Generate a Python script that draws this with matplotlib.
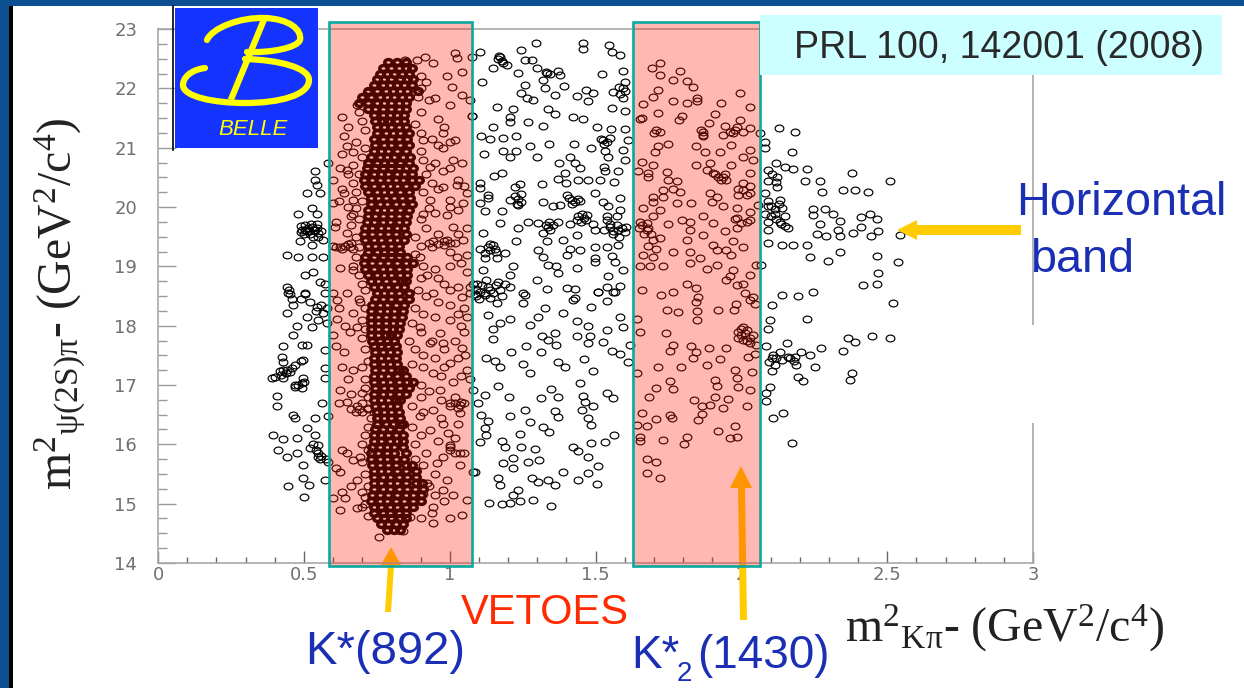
import numpy as np
import matplotlib
matplotlib.use('Agg')
import matplotlib.pyplot as plt
from matplotlib.markers import MarkerStyle
from matplotlib.patches import Rectangle, Polygon, PathPatch
from matplotlib.path import Path
from matplotlib.ticker import MultipleLocator
from matplotlib.transforms import Affine2D

plt.rcParams['mathtext.fontset'] = 'custom'
plt.rcParams['mathtext.rm'] = 'Liberation Serif'
plt.rcParams['mathtext.it'] = 'Liberation Serif:italic'

x_ticks = [0, 0.5, 1, 1.5, 2, 2.5, 3]
x_labels = ['0', '0.5', '1', '1.5', '2', '2.5', '3']
y_ticks = [14, 15, 16, 17, 18, 19, 20, 21, 22, 23]
veto_low = (0.586, 1.077)
veto_high = (1.628, 2.064)

# points between the two veto bands
mid_pts = [(1.296,22.76),(1.243,22.65),(1.456,22.76),(1.456,22.67),(1.546,22.73),(1.558,22.61),(1.584,22.56),
(1.104,22.61),(1.075,22.52),(1.174,22.52),(1.184,22.42),(1.149,22.34),(1.258,22.47),(1.281,22.47),(1.195,22.39),
(1.235,22.26),(1.300,22.34),(1.332,22.26),(1.372,22.30),(1.378,22.23),(1.321,22.14),(1.112,22.11),(1.521,22.25),
(1.595,22.29),(1.601,22.11),(1.595,22.00),(1.258,22.06),(1.326,22.00),(1.393,22.04),(1.469,21.98),(1.492,21.92),
(1.435,21.87),(1.361,21.89),(1.246,21.92),(1.264,21.83),(1.286,21.81),(1.475,21.78),(1.561,21.93),(1.595,21.84),
(1.161,21.68),(1.216,21.66),(1.338,21.66),(1.361,21.57),(1.555,21.67),(1.601,21.62),(1.077,21.54),(1.206,21.52),
(1.206,21.44),(1.267,21.44),(1.424,21.52),(1.458,21.48),(1.321,21.37),(1.149,21.34),(1.504,21.34),(1.552,21.31),
(1.601,21.31),(1.109,21.20),(1.138,21.15),(1.184,21.16),(1.229,21.19),(1.526,21.13),(1.612,21.13),(1.275,21.02),
(1.341,21.06),(1.426,21.06),(1.486,21.00),(1.532,20.95),(1.595,20.96),(1.117,20.89),(1.184,20.95),(1.229,20.95),
(1.206,20.84),(1.298,20.84),(1.544,20.84),(1.412,20.84),(1.376,20.75),(1.429,20.74),(1.601,20.79),(1.529,20.68),
(1.446,20.65),(1.578,20.60),(1.532,20.60),(1.395,20.58),(1.178,20.58),(1.153,20.53),(1.370,20.48),(1.441,20.46),
(1.475,20.46),(1.515,20.46),(1.398,20.40),(1.564,20.42),(1.318,20.39),(1.241,20.39),(1.224,20.33),(1.104,20.40),
(1.104,20.32),(1.132,20.20),(1.246,20.22),(1.235,20.13),(1.235,20.03),(1.206,20.12),(1.321,20.09),(1.498,20.23),
(1.401,20.20),(1.418,20.12),(1.446,20.10),(1.584,20.15),(1.526,20.09),(1.132,20.16),(1.104,20.07),(1.178,19.94),
(1.355,20.01),(1.378,20.03),(1.544,20.01),(1.584,19.95),(1.121,19.94),(1.452,19.89),(1.435,19.78),(1.469,19.78),
(1.538,19.84),(1.572,19.84),(1.172,19.73),(1.269,19.74),(1.304,19.73),(1.338,19.67),(1.372,19.75),(1.412,19.71),
(1.498,19.61),(1.549,19.67),(1.578,19.61),(1.606,19.67),(1.235,19.64),(1.115,19.56),(1.492,19.71),(1.435,19.53),
(1.321,19.56),(1.389,19.44),(1.229,19.42),(1.332,19.43),(1.498,19.33),(1.538,19.33),(1.578,19.36),(1.446,19.28),
(1.304,19.28),(1.149,19.36),(1.138,19.28),(1.104,19.30),(1.161,19.14),(1.121,19.14),(1.189,19.22),(1.412,19.30),
(1.401,19.19),(1.321,19.16),(1.498,19.14),(1.498,19.08),(1.558,19.17),(1.566,19.08),(1.218,19.01),(1.338,19.02),
(1.366,19.00),(1.435,18.98),(1.595,18.94),(1.115,18.94),(1.372,18.88),(1.544,18.83),(1.298,18.77),(1.332,18.61),
(1.401,18.63),(1.429,18.61),(1.538,18.66),(1.584,18.67),(1.509,18.57),(1.561,18.56),(1.206,18.85),(1.092,18.71),
(1.126,18.77),(1.166,18.74),(1.104,18.57),(1.138,18.60),(1.172,18.60),(1.206,18.66),(1.252,18.55),(1.069,18.66),
(1.429,18.46),(1.132,18.18),(1.206,18.12),(1.172,18.04),(1.149,17.94),(1.275,18.01),(1.304,18.15),(1.389,18.22),
(1.435,18.08),(1.475,18.00),(1.538,17.92),(1.595,17.97),(1.584,18.14),(1.361,17.88),(1.315,17.83),(1.338,17.76),
(1.366,17.67),(1.149,17.77),(1.435,17.83),(1.481,17.83),(1.526,17.73),(1.475,17.70),(1.260,17.66),(1.209,17.56),
(1.313,17.55),(1.126,17.46),(1.155,17.41),(1.172,17.31),(1.252,17.35),(1.275,17.21),(1.372,17.39),(1.395,17.31),
(1.460,17.44),(1.492,17.23),(1.555,17.57),(1.584,17.53),(1.612,17.38),(1.618,17.67),(1.446,17.04),(1.166,16.98),
(1.349,16.93),(1.204,16.79),(1.313,16.78),(1.372,16.79),(1.458,16.81),(1.464,16.72),(1.538,16.86),(1.561,16.78),
(1.121,16.83),(1.098,16.69),(1.492,16.65),(1.109,16.50),(1.132,16.39),(1.206,16.48),(1.258,16.58),(1.361,16.57),
(1.372,16.46),(1.452,16.58),(1.475,16.44),(1.486,16.33),(1.275,16.37),(1.321,16.29),(1.341,16.20),(1.121,16.27),
(1.126,16.16),(1.104,16.04),(1.241,16.17),(1.178,16.06),(1.189,15.96),(1.246,15.95),(1.292,15.92),(1.424,15.96),
(1.441,15.89),(1.486,16.03),(1.532,16.04),(1.564,16.16),(1.475,15.78),(1.218,15.77),(1.184,15.68),(1.218,15.60),
(1.269,15.70),(1.307,15.74),(1.387,15.54),(1.509,15.63),(1.475,15.51),(1.441,15.40),(1.281,15.44),(1.304,15.36),
(1.338,15.40),(1.361,15.31),(1.166,15.43),(1.172,15.31),(1.506,15.33),(1.235,15.23),(1.218,15.15),(1.134,15.01),
(1.178,15.00),(1.206,15.01),(1.241,15.05),(1.284,15.06),(1.349,14.96),(1.086,15.54),(1.086,18.54),(1.121,18.52),
(1.161,18.39),(1.252,18.38),(1.326,18.30),(1.424,18.44),(1.484,18.32),(1.538,18.42),(1.509,18.56),(1.566,18.56),
(1.258,18.52)]

# tight clumps that read darker in the picture
clump_pts = [(1.165,22.50),(1.18,22.46),(1.17,22.55),(1.33,22.27),(1.345,22.24),(1.225,20.18),(1.245,20.08),(1.23,20.05),
(1.41,20.15),(1.43,20.08),(1.44,20.14),(1.42,20.05),(1.52,21.15),(1.54,21.1),(1.55,21.16),(1.53,21.07),(1.58,22.03),
(1.6,21.95),(1.585,21.9),(1.55,19.72),(1.56,19.6),(1.575,19.7),(1.59,19.65),(1.56,19.55),(1.53,19.62),(1.6,19.58),
(1.54,19.78),(1.58,19.5),(1.14,19.38),(1.155,19.3),(1.13,19.32),(1.16,19.25),(1.12,19.22),(1.09,18.62),(1.11,18.68),
(1.12,18.55),(1.09,18.5),(1.13,18.65),(1.15,18.55),(1.16,18.68),(1.1,18.45),(1.14,18.47),(1.18,18.5),(1.19,18.7),
(1.33,19.7),(1.345,19.62),(1.34,19.75),(1.355,19.7),(1.44,19.85),(1.46,19.82),(1.45,19.75),(1.47,19.87),
(0.49,19.68),(0.505,19.7),(0.515,19.65),(0.525,19.72),(0.535,19.62),(0.52,19.55),(0.545,19.65),(0.5,19.55),(0.49,19.58),
(0.55,19.5),(0.53,19.5),(0.51,19.6),(0.56,19.6),(0.53,16.0),(0.54,15.9),(0.55,15.85),(0.56,15.8),(0.55,15.78),(0.575,15.75),
(0.45,18.6),(0.46,18.45),(0.49,18.45),(0.52,18.4),(0.54,18.25),(0.56,18.35),(0.58,18.3),(0.55,18.1),(0.58,18.05),
(0.44,17.2),(0.46,17.28),(0.43,17.12),(0.42,17.17),(0.49,17.4),(0.47,17.0),(0.495,16.95),(0.5,17.05),
(2.09,20.1),(2.1,20.02),(2.115,19.97),(2.1,19.85),(2.12,19.8),(2.135,19.72),(2.15,19.68),(2.15,19.85),(2.13,20.05),(2.09,19.75),
(2.12,20.42),(2.105,20.55),(2.11,17.5),(2.12,17.45),(2.14,17.42),(2.16,17.47),(2.18,17.4),(2.095,17.38),
(2.0,17.95),(2.02,17.92),(2.0,17.85),(2.03,17.8),(2.02,17.75),(1.99,17.8),(1.91,20.55),(1.93,20.45),(1.945,20.55),(1.92,20.5),
(1.99,20.3),(2.02,20.2),(2.03,20.35),(1.99,20.2),(1.66,19.7),(1.68,19.65),(1.65,19.65),(1.665,19.55),(1.69,19.55),(1.68,19.35),
(1.86,21.3),(1.87,21.22),(1.96,21.27),(1.98,21.3),(1.70,21.25),(1.66,21.5),(1.98,19.8),(2.0,19.73),(2.03,19.78),
(0.60,19.35),(0.63,19.3),(0.65,19.37),(0.93,19.4),(0.96,19.38),(0.98,19.42),(1.0,19.4),(1.0,16.65),(1.02,16.7),(1.03,16.62),
(1.04,16.72),(1.0,15.95),(1.0,15.9),(1.02,15.85),(1.05,15.85),(0.69,16.6),(0.7,16.55),(0.72,16.62),(0.74,16.55),
(0.63,20.9),(0.65,20.55),(0.63,20.3),(0.62,20.1),(0.65,20.0),(0.66,19.85),(0.61,19.75),(0.98,21.35),(1.0,21.1),(1.0,20.65),
(1.03,20.45),(1.05,20.35),(1.0,20.0),(1.03,19.95),(1.06,19.65),(1.03,19.55),(1.0,19.25),(1.04,19.05),(1.06,18.9),(1.0,18.6),
(1.03,18.65),(1.07,18.55),(1.06,18.15),(1.03,18.2),(1.05,17.9),(1.02,17.75),(1.03,17.45),(1.07,17.1),(1.04,17.15),(0.98,17.3),
(0.62,18.3),(0.64,18.0),(0.61,17.65),(0.63,17.3),(0.65,17.1),(0.66,16.85),(0.62,16.7),(0.63,15.9),(0.61,15.6),(0.66,15.3),
(0.63,15.2),(0.7,14.95)]

# inside the K*2(1430) veto
high_pts = [(1.721,22.42),(1.692,22.34),(1.721,22.23),(1.789,22.29),(1.766,22.14),(1.812,22.12),(1.833,22.03),
(1.713,21.98),(1.698,21.85),(1.664,21.73),(1.766,21.79),(1.812,21.75),(1.849,21.83),(1.849,21.78),(1.932,21.76),
(1.995,21.92),(2.029,21.69),(1.715,21.59),(1.795,21.53),(1.787,21.46),(1.652,21.48),(1.909,21.57),(1.890,21.41),
(1.995,21.47),(1.944,21.37),(1.984,21.35),(2.029,21.33),(1.709,21.29),(1.721,21.27),(1.869,21.27),(1.869,21.19),
(1.938,21.21),(1.972,21.24),(2.006,21.27),(2.064,21.24),(1.749,21.07),(1.715,21.02),(1.704,20.93),(1.846,21.02),
(1.875,20.93),(1.926,20.93),(1.966,21.05),(2.029,20.96),(2.006,20.85),(2.041,20.79),(1.658,20.76),(1.698,20.71),
(1.892,20.75),(1.846,20.70),(1.966,20.70),(1.646,20.60),(1.681,20.57),(1.744,20.59),(1.681,20.50),(1.881,20.62),
(1.904,20.57),(1.938,20.51),(1.949,20.46),(2.029,20.57),(1.749,20.46),(1.778,20.43),(1.766,20.31),(1.732,20.29),
(1.789,20.26),(2.006,20.40),(2.006,20.29),(2.029,20.23),(1.892,20.23),(1.915,20.17),(1.698,20.17),(1.698,20.09),
(1.732,20.17),(1.898,20.09),(1.778,20.06),(1.829,20.06),(1.938,20.01),(1.984,19.98),(2.029,19.92),(2.058,20.03),
(1.664,19.98),(1.721,19.95),(1.698,19.84),(1.869,19.84),(1.904,19.73),(1.984,19.81),(2.018,19.75),(1.652,19.75),
(1.675,19.73),(1.749,19.71),(1.795,19.78),(1.824,19.75),(1.675,19.61),(1.824,19.61),(1.869,19.53),(1.944,19.59),
(1.984,19.64),(1.721,19.47),(1.698,19.44),(1.812,19.44),(1.904,19.36),(1.972,19.42),(2.006,19.33),(1.915,19.28),
(1.949,19.28),(1.709,19.30),(1.766,19.25),(1.824,19.25),(1.664,19.19),(1.698,19.16),(1.858,19.14),(1.824,19.05),
(1.966,19.19),(1.652,19.01),(1.686,19.00),(1.732,19.01),(1.915,19.02),(1.881,18.95),(1.972,18.94),(1.961,18.83),
(2.052,19.03),(2.029,18.85),(1.812,18.71),(1.846,18.63),(1.949,18.77),(1.984,18.69),(2.006,18.71),(1.658,18.60),
(1.726,18.52),(1.766,18.57),(2.012,18.55),(2.041,18.49),(1.852,18.49),(1.846,18.40),(1.744,18.26),(1.784,18.23),
(1.849,18.24),(1.849,18.09),(1.921,18.26),(1.974,18.26),(1.981,18.37),(2.029,18.43),(2.046,18.37),(1.641,18.12),
(1.652,17.90),(1.740,17.87),(2.006,17.98),(1.989,17.90),(2.012,17.87),(2.041,17.84),(2.006,17.76),(2.029,17.70),
(2.052,17.67),(1.766,17.67),(1.755,17.57),(1.829,17.65),(1.890,17.62),(1.949,17.62),(1.846,17.55),(1.833,17.46),
(2.046,17.53),(2.024,17.48),(1.926,17.43),(1.715,17.31),(1.793,17.31),(1.881,17.33),(1.641,17.20),(1.978,17.26),
(2.038,17.22),(1.984,17.11),(1.909,17.09),(1.915,16.99),(1.757,17.06),(1.766,16.94),(1.709,16.95),(1.989,16.96),
(2.029,16.92),(1.683,16.79),(1.838,16.75),(1.909,16.79),(1.955,16.76),(1.864,16.65),(1.892,16.66),(1.938,16.62),
(2.020,16.64),(1.658,16.52),(1.755,16.50),(1.709,16.42),(1.761,16.44),(1.864,16.51),(1.852,16.41),(1.675,16.31),
(1.641,16.33),(1.921,16.23),(1.980,16.31),(1.652,16.13),(1.652,16.06),(1.730,16.07),(1.812,16.13),(1.803,16.01),
(1.961,16.10),(1.984,16.13),(1.678,15.75),(1.709,15.70),(1.721,15.44),(1.678,15.51)]

# right of the second veto
right_pts = [(2.130,21.33),(2.184,21.27),(2.081,21.10),(2.081,20.99),(2.172,20.93),(2.118,20.75),(2.092,20.62),
(2.149,20.68),(2.178,20.64),(2.224,20.64),(2.121,20.51),(2.092,20.43),(2.121,20.34),(2.218,20.44),(2.269,20.44),
(2.275,20.26),(2.381,20.58),(2.349,20.28),(2.389,20.29),(2.435,20.26),(2.509,20.43),(2.081,20.23),(2.132,20.12),
(2.092,20.01),(2.138,19.98),(2.246,19.96),(2.286,19.96),(2.315,19.89),(2.246,19.87),(2.081,19.89),(2.115,19.89),
(2.161,19.64),(2.132,19.75),(2.092,19.61),(2.269,19.71),(2.338,19.76),(2.441,19.89),(2.412,19.83),(2.464,19.80),
(2.332,19.61),(2.412,19.67),(2.469,19.60),(2.258,19.54),(2.292,19.51),(2.338,19.51),(2.384,19.57),(2.446,19.51),
(2.544,19.53),(2.138,19.36),(2.178,19.36),(2.224,19.36),(2.235,19.16),(2.298,19.09),(2.338,19.24),(2.464,19.18),
(2.538,19.08),(2.069,19.03),(2.469,18.88),(2.418,18.69),(2.464,18.71),(2.138,18.52),(2.195,18.50),(2.246,18.56),
(2.092,19.39),(2.106,18.34),(2.521,18.39),(2.098,18.10),(2.226,18.11),(2.092,17.94),(2.158,17.71),(2.366,17.80),
(2.389,17.73),(2.449,17.83),(2.509,17.80),(2.349,17.58),(2.273,17.62),(2.086,17.65),(2.132,17.56),(2.104,17.45),
(2.166,17.45),(2.184,17.48),(2.206,17.56),(2.235,17.51),(2.115,17.34),(2.104,17.23),(2.189,17.34),(2.252,17.31),
(2.195,17.13),(2.212,17.06),(2.381,17.21),(2.374,17.09),(2.098,16.97),(2.086,16.86),(2.086,16.73),(2.144,16.53),
(2.109,16.44),(2.172,16.02)]

# left of the first veto
left_pts = [(0.538,20.60),(0.538,20.46),(0.544,20.37),(0.510,20.23),(0.556,20.23),(0.584,20.74),(0.481,19.89),
(0.527,19.98),(0.544,19.89),(0.504,19.61),(0.527,19.67),(0.550,19.56),(0.487,19.42),(0.527,19.36),(0.441,19.19),
(0.481,19.16),(0.527,19.16),(0.567,19.16),(0.567,19.44),(0.504,18.85),(0.533,18.91),(0.556,18.74),(0.441,18.66),
(0.447,18.55),(0.504,18.55),(0.573,18.71),(0.573,18.55),(0.493,19.61),(0.516,19.59),(0.538,19.61),(0.544,19.72),
(0.453,18.54),(0.504,18.54),(0.464,18.35),(0.544,18.32),(0.441,18.21),(0.510,18.15),(0.567,18.21),(0.476,17.99),
(0.527,17.98),(0.464,17.84),(0.493,17.67),(0.510,17.67),(0.430,17.65),(0.573,17.59),(0.424,17.48),(0.498,17.42),
(0.430,17.39),(0.470,17.34),(0.390,17.11),(0.418,17.23),(0.441,17.25),(0.573,17.28),(0.573,17.11),(0.481,17.00),
(0.498,17.11),(0.407,16.81),(0.407,16.64),(0.561,16.69),(0.464,16.50),(0.470,16.44),(0.584,16.48),(0.538,16.44),
(0.510,16.27),(0.395,16.16),(0.430,16.09),(0.476,16.10),(0.538,16.16),(0.413,15.90),(0.441,15.79),(0.476,15.85),
(0.521,15.93),(0.550,15.99),(0.556,15.76),(0.498,15.65),(0.498,15.43),(0.573,15.40),(0.447,15.30),(0.516,15.32),
(0.502,15.11),(0.584,15.71),(0.401,17.14),(0.430,17.25),(0.453,17.22),(0.470,16.97),(0.493,17.03)]

# inside the K*(892) veto, away from the dense core
low_pts = [(0.630,21.52),(0.653,21.35),(0.636,21.19),(0.647,21.02),(0.670,20.93),(0.681,21.72),(0.716,21.92),
(0.847,22.48),(0.887,22.48),(0.915,22.52),(0.944,22.42),(1.018,22.59),(1.024,22.51),(0.990,22.20),(1.041,22.28),
(1.007,22.03),(1.041,21.89),(1.070,21.80),(0.950,21.83),(1.001,21.72),(0.961,21.48),(1.076,21.53),(0.978,21.24),
(1.018,21.13),(0.978,20.99),(0.910,21.13),(1.013,20.79),(1.041,20.74),(0.933,20.68),(0.978,20.60),(0.978,20.34),
(1.024,20.37),(1.058,20.23),(1.001,20.12),(0.933,20.12),(1.047,20.06),(0.910,19.89),(0.990,19.87),(1.013,19.67),
(1.047,19.44),(0.990,19.44),(0.944,19.42),(0.624,20.65),(0.647,20.62),(0.601,20.46),(0.636,20.23),(0.670,20.12),
(0.601,20.06),(0.670,19.89),(0.607,19.67),(0.647,19.56),(0.624,19.33),(0.658,19.33),(0.670,18.94),(0.624,18.97),
(0.601,18.55),(0.647,18.55),(1.024,19.16),(1.058,19.19),(1.001,19.00),(0.961,18.80),(0.921,18.85),(1.081,18.71),
(0.944,18.55),(1.041,18.49),(0.898,19.16),(0.613,18.43),(0.693,18.40),(0.670,18.21),(0.613,18.12),(0.681,17.98),
(0.658,17.90),(0.601,17.84),(0.636,17.56),(0.670,17.25),(0.624,16.92),(0.698,16.86),(0.647,16.72),(0.681,16.64),
(0.898,17.98),(0.967,17.87),(0.978,17.70),(0.933,17.70),(1.041,17.62),(1.053,17.51),(1.001,17.37),(0.944,17.20),
(1.058,17.25),(0.967,16.92),(1.001,16.69),(1.035,16.66),(1.081,16.92),(0.944,16.58),(0.898,16.47),(0.978,16.35),
(1.035,16.52),(0.933,16.24),(0.995,16.19),(1.001,15.99),(1.035,15.85),(0.978,15.79),(1.081,15.54),(1.035,15.65),
(0.956,15.68),(0.647,15.85),(0.693,15.79),(0.670,15.74),(0.624,15.54),(0.681,15.40),(0.978,15.23),(0.910,15.17),
(1.013,15.15),(1.058,15.06),(0.601,15.09),(0.641,15.09),(0.624,14.89),(0.681,14.92),(0.710,15.12),(0.944,14.67),
(1.001,14.75),(1.041,14.81),(0.756,14.44),(0.841,14.54),(0.921,15.34),(0.944,14.95),(0.864,14.78),
(0.69,21.6),(0.70,21.45),(0.71,21.3),(0.68,21.1),(0.71,21.0),(0.70,20.85),(0.67,20.7),(0.69,20.55),(0.67,20.4),
(0.68,20.25),(0.70,20.1),(0.68,19.98),(0.69,19.8),(0.66,19.7),(0.68,19.5),(0.66,19.4),(0.69,19.32),(0.67,19.3),
(0.64,19.35),(0.61,19.33),(0.68,19.15),(0.67,19.0),(0.69,18.85),(0.70,18.7),(0.71,18.6),(0.69,18.45),(0.71,18.3),
(0.70,18.1),(0.71,17.95),(0.70,17.8),(0.71,17.6),(0.72,17.4),(0.70,17.3),(0.71,17.1),(0.71,16.95),(0.72,16.8),
(0.70,16.7),(0.72,16.6),(0.68,16.55),(0.66,16.6),(0.73,16.45),(0.72,16.3),(0.71,16.15),(0.70,16.0),(0.72,15.9),
(0.70,15.7),(0.71,15.5),(0.72,15.3),(0.70,15.2),(0.71,15.0),(0.72,14.8),
(0.90,22.2),(0.92,22.1),(0.90,22.0),(0.89,21.85),(0.93,21.8),(0.90,21.6),(0.88,21.4),(0.90,21.25),(0.94,21.15),
(0.96,21.05),(0.90,20.95),(0.91,20.8),(0.95,20.75),(0.92,20.55),(0.94,20.4),(0.96,20.3),(0.91,20.25),(0.93,19.98),
(0.95,19.9),(0.90,19.8),(0.92,19.65),(0.96,19.55),(0.88,19.5),(0.90,19.35),(0.94,19.33),(0.98,19.36),(1.02,19.4),
(0.88,19.2),(0.91,19.0),(0.95,18.95),(0.90,18.8),(0.98,18.7),(0.89,18.6),(0.92,18.5),(0.96,18.4),(1.0,18.35),
(1.05,18.3),(0.88,18.3),(0.91,18.2),(0.95,18.15),(1.0,18.1),(1.04,18.0),(0.87,18.05),(0.90,17.9),(0.94,17.75),
(0.98,17.6),(0.86,17.75),(0.88,17.6),(0.91,17.5),(0.95,17.45),(0.87,17.35),(0.91,17.3),(0.97,17.15),(1.01,17.05),
(0.90,17.0),(0.93,16.9),(0.90,16.8),(0.97,16.75),(1.02,16.8),(1.05,16.7),(0.87,16.65),(0.91,16.55),(0.97,16.45),
(1.03,16.35),(0.87,16.3),(0.90,16.15),(0.96,16.05),(1.02,16.1),(0.88,16.0),(0.92,15.85),(0.88,15.75),(0.91,15.65),
(0.95,15.5),(0.99,15.4),(0.93,15.3),(0.95,15.15),(0.98,15.05),(0.94,14.85),(0.90,14.75)]

# the dark K*(892) band, read row by row
band_y = [22.45,22.35,22.25,22.15,22.05,21.95,21.85,21.75,21.65,21.55,21.45,21.35,21.25,21.15,21.05,20.95,20.85,20.75,
20.65,20.55,20.45,20.35,20.25,20.15,20.05,19.95,19.85,19.75,19.65,19.55,19.45,19.35,19.25,19.15,19.05,18.95,18.85,
18.75,18.65,18.55,18.45,18.35,18.25,18.15,18.05,17.95,17.85,17.75,17.65,17.55,17.45,17.35,17.25,17.15,17.05,16.95,
16.85,16.75,16.65,16.55,16.45,16.35,16.25,16.15,16.05,15.95,15.85,15.75,15.65,15.55,15.45,15.35,15.25,15.15,15.05,
14.95,14.85,14.75,14.65,14.55]
band_x = [[.79,.82,.85],[.77,.80,.825,.85,.87],[.76,.785,.81,.835,.86],[.75,.775,.80,.83,.855,.875],
[.74,.77,.795,.82,.845,.87],[.72,.75,.78,.805,.83,.855,.89],[.70,.73,.76,.785,.81,.835,.86],[.69,.72,.75,.775,.80,.825,.85],
[.72,.745,.77,.80,.825,.85],[.74,.77,.795,.82,.845],[.745,.77,.79,.82,.845],[.75,.775,.80,.825,.85],[.75,.78,.805,.83,.86],
[.74,.77,.80,.825,.855],[.745,.775,.80,.83,.86],[.74,.765,.79,.82,.85],[.73,.76,.785,.81,.84,.865],[.72,.75,.775,.80,.83,.86],
[.715,.745,.77,.80,.825,.85,.875],[.71,.74,.765,.79,.82,.845,.87],[.705,.735,.76,.79,.815,.84,.87,.895],[.71,.74,.77,.795,.82,.85,.88],
[.72,.75,.775,.80,.83,.86],[.73,.755,.78,.81,.835,.865],[.73,.76,.785,.815,.84,.87],[.72,.75,.775,.80,.83,.86],
[.72,.745,.77,.80,.825,.855],[.715,.74,.77,.795,.825,.85],[.71,.735,.765,.79,.82,.845],[.705,.735,.76,.79,.815,.85],
[.71,.74,.765,.795,.82,.845],[.72,.745,.77,.80,.825],[.72,.75,.775,.80,.83],[.71,.74,.77,.80,.825,.855],
[.705,.735,.76,.79,.82,.85,.875],[.71,.74,.77,.795,.825,.855],[.72,.75,.775,.80,.83,.855],[.73,.755,.78,.81,.835,.85],
[.74,.765,.79,.82,.845],[.75,.775,.80,.825,.86],[.745,.77,.80,.83,.86],[.735,.76,.785,.815,.845],[.73,.76,.785,.81,.84],
[.73,.755,.78,.81,.835],[.73,.755,.78,.805,.83],[.73,.755,.78,.805,.825],[.73,.755,.78,.80,.82],[.735,.76,.785,.81],
[.74,.765,.79,.815],[.745,.77,.795,.82],[.74,.765,.79,.815],[.74,.77,.795,.82],[.745,.77,.80,.825,.84],[.74,.765,.79,.82,.85],
[.74,.77,.795,.825,.855,.875],[.745,.775,.80,.83,.86],[.74,.77,.795,.825,.85],[.74,.765,.79,.815,.83],[.745,.77,.795,.82],
[.75,.775,.80,.825],[.75,.775,.80,.83],[.75,.78,.805,.83,.84],[.745,.77,.795,.825],[.74,.765,.79,.815,.84],[.74,.765,.795,.82,.84],
[.735,.76,.785,.81,.84],[.73,.755,.785,.81,.85],[.73,.76,.785,.815,.845],[.735,.76,.79,.815,.85,.87],[.74,.765,.79,.82,.85,.885],
[.74,.77,.795,.825,.855,.885],[.74,.765,.795,.82,.85,.885,.905],[.74,.77,.795,.825,.855,.88,.91],[.735,.76,.79,.82,.85,.875,.90],
[.73,.76,.785,.815,.845,.875,.90],[.74,.765,.795,.82,.85,.875],[.74,.77,.795,.825,.85],[.75,.775,.80,.83,.85],[.765,.79,.815,.84],
[.785,.81,.83]]

fig = plt.figure(figsize=(12.44, 6.88), dpi=100, facecolor='#0b4f92')

# slide background, coordinates in pixels
bg = fig.add_axes([0, 0, 1, 1], zorder=0)
bg.set_xlim(0, 1244)
bg.set_ylim(688, 0)
bg.axis('off')
bg.add_patch(Rectangle((10, 6), 1234, 682, fc='white', ec='none'))
bg.add_patch(Rectangle((9, 6), 4, 682, fc='black', ec='none'))

ax = fig.add_axes([158/1244, 1-563/688, 875/1244, 534/688], zorder=1)
ax.patch.set_alpha(0)
ax.set_xlim(0, 3)
ax.set_ylim(14, 23)

deco = fig.add_axes([0, 0, 1, 1], zorder=2)
deco.set_xlim(0, 1244)
deco.set_ylim(688, 0)
deco.axis('off')

oval = MarkerStyle('o', transform=Affine2D().scale(1, 0.78))
for pts in [mid_pts, clump_pts, high_pts, right_pts, left_pts, low_pts]:
    arr = np.array(pts)
    ax.plot(arr[:, 0], arr[:, 1], ls='none', marker=oval, ms=6.3, mfc='none', mec='black', mew=0.85, zorder=2)
bx = [v for row in band_x for v in row]
by = [y for y, row in zip(band_y, band_x) for v in row]
ax.plot(bx, by, ls='none', marker=oval, ms=5.4, mfc='none', mec='black', mew=2.5, zorder=2)

# axis frame and ticks
for s in ax.spines.values():
    s.set_color('#a8a8a8')
    s.set_linewidth(1.2)
ax.set_xticks(x_ticks)
ax.set_xticklabels(x_labels)
ax.set_yticks(y_ticks)
ax.xaxis.set_minor_locator(MultipleLocator(0.1))
ax.yaxis.set_minor_locator(MultipleLocator(0.25))
ax.tick_params(axis='x', which='major', direction='in', length=8.5, width=1, color='#666666', labelsize=13, labelcolor='#707070', pad=2)
ax.tick_params(axis='x', which='minor', direction='in', length=4.3, width=1, color='#666666')
ax.tick_params(axis='y', which='major', direction='in', length=13, width=1, color='#999999', labelsize=13, labelcolor='#707070', pad=15)
ax.tick_params(axis='y', which='minor', direction='in', length=6.5, width=1, color='#999999')

# arrows go under the pink veto bands so their heads turn orange
yellow = '#ffcc00'
arrow_low = [(385, 612), (388, 565), (381, 565), (391, 547), (401, 565), (394, 565), (391, 612)]
arrow_high = [(740, 620), (738, 488), (730, 488), (741, 466), (752, 488), (745, 488), (747, 620)]
for poly in [arrow_low, arrow_high]:
    ax.add_patch(Polygon(poly, closed=True, fc=yellow, ec='none', transform=deco.transData, clip_on=False, zorder=2.5))

for lo, hi in [veto_low, veto_high]:
    ax.add_patch(Rectangle((lo, 13.95), hi-lo, 9.17, fc=(1, 0.1, 0), ec='none', alpha=0.3, clip_on=False, zorder=3))
    ax.add_patch(Rectangle((lo, 13.95), hi-lo, 9.17, fc='none', ec='#0aa8a0', lw=1.9, clip_on=False, zorder=4))

# white slip over the right frame, and the cyan reference box
deco.add_patch(Rectangle((1029, 325), 8, 98, fc='white', ec='none', zorder=1))
deco.add_patch(Rectangle((760, 15), 462, 60, fc='#ccffff', ec='none', zorder=1))
deco.text(794, 58, 'PRL 100, 142001 (2008)', family='Liberation Sans', fontsize=27, color='#2a2a2a', zorder=3)

# Belle logo
deco.add_patch(Rectangle((175, 8), 143, 140, fc='#1433ff', ec='none', zorder=1))
deco.plot([172.5, 172.5], [6, 150], color='black', lw=1.2, zorder=1)
up = Path([(207, 40), (212, 28), (240, 17), (265, 18), (290, 19), (302, 30), (300, 40), (297, 48), (270, 53), (247, 52)],
          [Path.MOVETO] + [Path.CURVE4]*9)
lowp = Path([(205, 68), (190, 70), (183, 78), (183, 85), (183, 97), (215, 103), (245, 103), (280, 103), (309, 95), (309, 80),
             (309, 68), (280, 60), (245, 59)], [Path.MOVETO] + [Path.CURVE4]*12)
for p in [up, lowp]:
    deco.add_patch(PathPatch(p, fc='none', ec='#ffff00', lw=4.5, capstyle='round', zorder=2))
deco.plot([263, 232], [22, 97], color='#ffff00', lw=4.5, zorder=2)
deco.text(218, 135, 'BELLE', family='Liberation Sans', style='italic', fontsize=16, color='#ffff00', zorder=3)

# horizontal band arrow
deco.add_patch(Polygon([(1021, 225), (917, 225), (917, 220), (897, 230), (917, 240), (917, 235), (1021, 235)],
                       closed=True, fc=yellow, ec='none', zorder=2))

blue = '#1a2fb4'
deco.text(1016, 215, 'Horizontal', family='Liberation Sans', fontsize=33.7, color=blue, zorder=3)
deco.text(1030, 272, 'band', family='Liberation Sans', fontsize=33.7, color=blue, zorder=3)
deco.text(461, 624, 'VETOES', family='Liberation Sans', fontsize=30, color='#ff2a00', zorder=3)
deco.text(305, 664, 'K*(892)', family='Liberation Sans', fontsize=34, color=blue, zorder=3)
deco.text(631, 668, 'K*', family='Liberation Sans', fontsize=33, color=blue, zorder=3)
deco.text(677, 681, '2', family='Liberation Sans', fontsize=20, color=blue, zorder=3)
deco.text(697, 668, '(1430)', family='Liberation Sans', fontsize=33, color=blue, zorder=3)

deco.text(60, 304, r'$\mathrm{m}^{2}{}_{\mathrm{\psi(2S)\pi}}$- (GeV$^{2}$/c$^{4}$)', family='Liberation Serif', fontsize=34.4,
          rotation=90, ha='center', va='center', color='#222222', zorder=3)
deco.text(845, 642, r'$\mathrm{m}^{2}{}_{\mathrm{K\pi}}$- (GeV$^{2}$/c$^{4}$)', family='Liberation Serif', fontsize=34.5,
          color='#222222', zorder=3)

fig.savefig('out.png', dpi=100, facecolor=fig.get_facecolor())
